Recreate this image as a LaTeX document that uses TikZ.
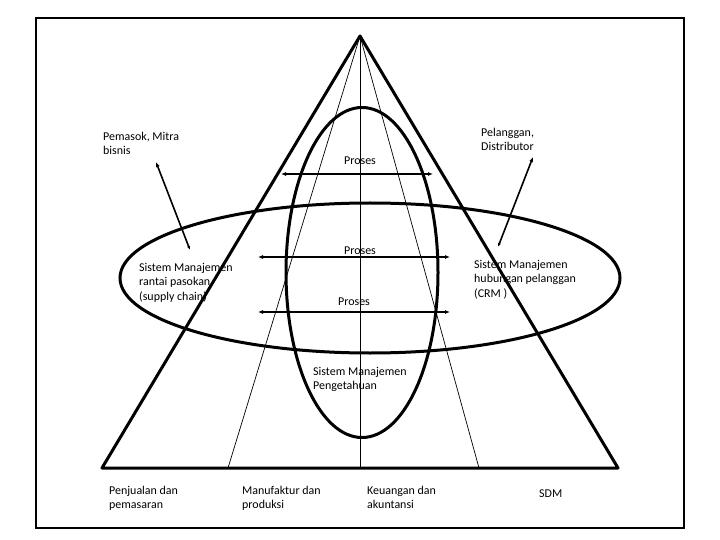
\documentclass[tikz,border=0pt]{standalone}
\usepackage{fontspec}
\setmainfont{Carlito}
\usepackage{tkz-euclide}
\usepackage{tikz}
\usetikzlibrary{arrows.meta}

\tikzset{
  label text/.style={font=\fontsize{12}{14.5}\selectfont, align=left, inner sep=0pt},
  proses arrow/.style={{Latex[length=5bp,width=4bp]}-{Latex[length=5bp,width=4bp]}, line width=1.8bp},
  side arrow/.style={{Latex[length=5bp,width=4bp]}-{Latex[length=4bp,width=3bp]}, line width=1.6bp},
}

\begin{document}
\begin{tikzpicture}[x=1bp, y=-1bp]
    \useasboundingbox (0,0) rectangle (720,540);
    \draw[line width=1.5bp] (36,18) rectangle (684,528);
    % pyramid and its divisions
    \tkzDefPoints{360/36/A,102/468/B,618/468/C}
    \tkzDefPoints{228/468/D,360/468/E,479/468/F}
    \tkzDrawSegments[line width=0.7bp](A,D A,E A,F)
    \tkzDrawPolygon[line width=3bp](A,B,C)
    % the two ellipses
    \tkzDefPoints{362/272.5/V,370/278/H}
    \draw[line width=3bp] (V) ellipse [x radius=76, y radius=165];
    \draw[line width=3bp] (H) ellipse [x radius=250, y radius=75];
    % process arrows
    \tkzDefPoints{281/174/P,433/174/Q,258/257/R,450/257/S,258/312/T,450/312/U}
    \tkzDrawSegments[proses arrow](P,Q R,S T,U)
    % arrows to partners
    \tkzDefPoints{156/162/K,190/250/L,533/157/M,498/247/N}
    \tkzDrawSegments[side arrow](K,L M,N)
    % labels (base = last line)
    \node[label text, anchor=base] (proses1) at (360,165) {Proses};
    \node[label text, anchor=base] (proses2) at (360,255) {Proses};
    \node[label text, anchor=base] (proses3) at (354,305) {Proses};
    \node[label text, anchor=base west] (pemasok) at (103,154.5) {Pemasok, Mitra\\bisnis};
    \node[label text, anchor=base west] (pelanggan) at (481,150.5) {Pelanggan,\\Distributor};
    \node[label text, anchor=base west] (scm) at (139,300) {Sistem Manajemen\\rantai pasokan\\(supply chain)};
    \node[label text, anchor=base west] (crm) at (474,297) {Sistem Manajemen\\hubungan pelanggan\\(CRM )};
    \node[label text, anchor=base west] (kms) at (313,389.5) {Sistem Manajemen\\Pengetahuan};
    \node[label text, anchor=base west] (penjualan) at (109,508.5) {Penjualan dan\\pemasaran};
    \node[label text, anchor=base west] (manufaktur) at (242,508.5) {Manufaktur dan\\produksi};
    \node[label text, anchor=base west] (keuangan) at (367,508.5) {Keuangan dan\\akuntansi};
    \node[label text, anchor=base west] (sdm) at (539,497) {SDM};
\end{tikzpicture}
\end{document}
